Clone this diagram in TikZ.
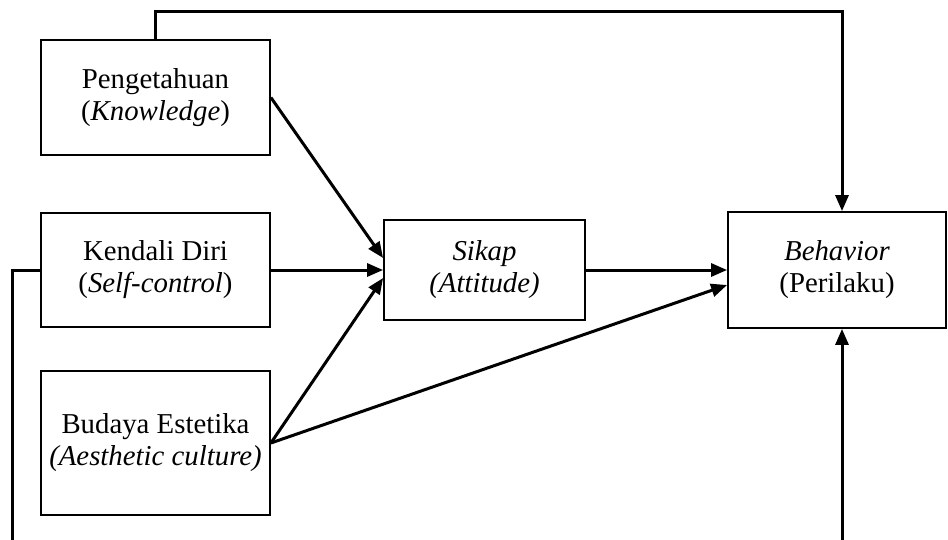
\documentclass[tikz,border=0pt]{standalone}
\usepackage{fontspec}
\setmainfont{Liberation Serif}
\usepackage{tikz}
\usetikzlibrary{arrows.meta}
\tikzset{
  varbox/.style={
    draw, line width=0.9pt, align=center, inner sep=0pt,
    minimum width=#1},
  varbox/.default=114.5pt,
  link/.style={
    line width=1.5pt,
    -{Triangle[length=8pt,width=6.5pt]}},
  }

\begin{document}
\begin{tikzpicture}[x=0.5pt,y=-0.5pt,
    font=\fontsize{14.4}{16}\selectfont]
            \useasboundingbox (0,0) rectangle (948,540);

            % Variables
            \node[varbox, minimum height=57.5pt] (peng) at (155.5,97.5) {Pengetahuan\\(\textit{Knowledge})};
            \node[varbox, minimum height=57pt] (kend) at (155.5,270) {Kendali Diri\\(\textit{Self-control})};
            \node[varbox, minimum height=72pt] (budaya) at (155.5,443) {Budaya Estetika\\\textit{(Aesthetic culture)}};
            \node[varbox=100.5pt, minimum height=50pt] (sikap) at (484.5,270) {\textit{Sikap}\\\textit{(Attitude)}};
            \node[varbox=109pt, minimum height=58pt] (behav) at (837,270) {\textit{Behavior}\\(Perilaku)};

            % Bends
            \coordinate (tr) at (842,12);
            \coordinate (bl) at (12,556);
            \coordinate (br) at (842,556);

            % Arrows to Sikap
            \draw [link] (peng.east) -- ([yshift=6pt]sikap.west);
            \draw [link] (kend.east) -- (sikap.west);
            \draw [link] (budaya.east) -- ([yshift=-4pt]sikap.west);

            % Arrows to Behavior
            \draw [link] (sikap.east) -- (behav.west);
            \draw [link] (budaya.east) -- ([yshift=-7.5pt]behav.west);
            \draw [link] (peng.north) |- (tr) -- (tr |- behav.north);
            \draw [link] (kend.west) -| (bl) -- (br) -- (br |- behav.south);
        \end{tikzpicture}
\end{document}
